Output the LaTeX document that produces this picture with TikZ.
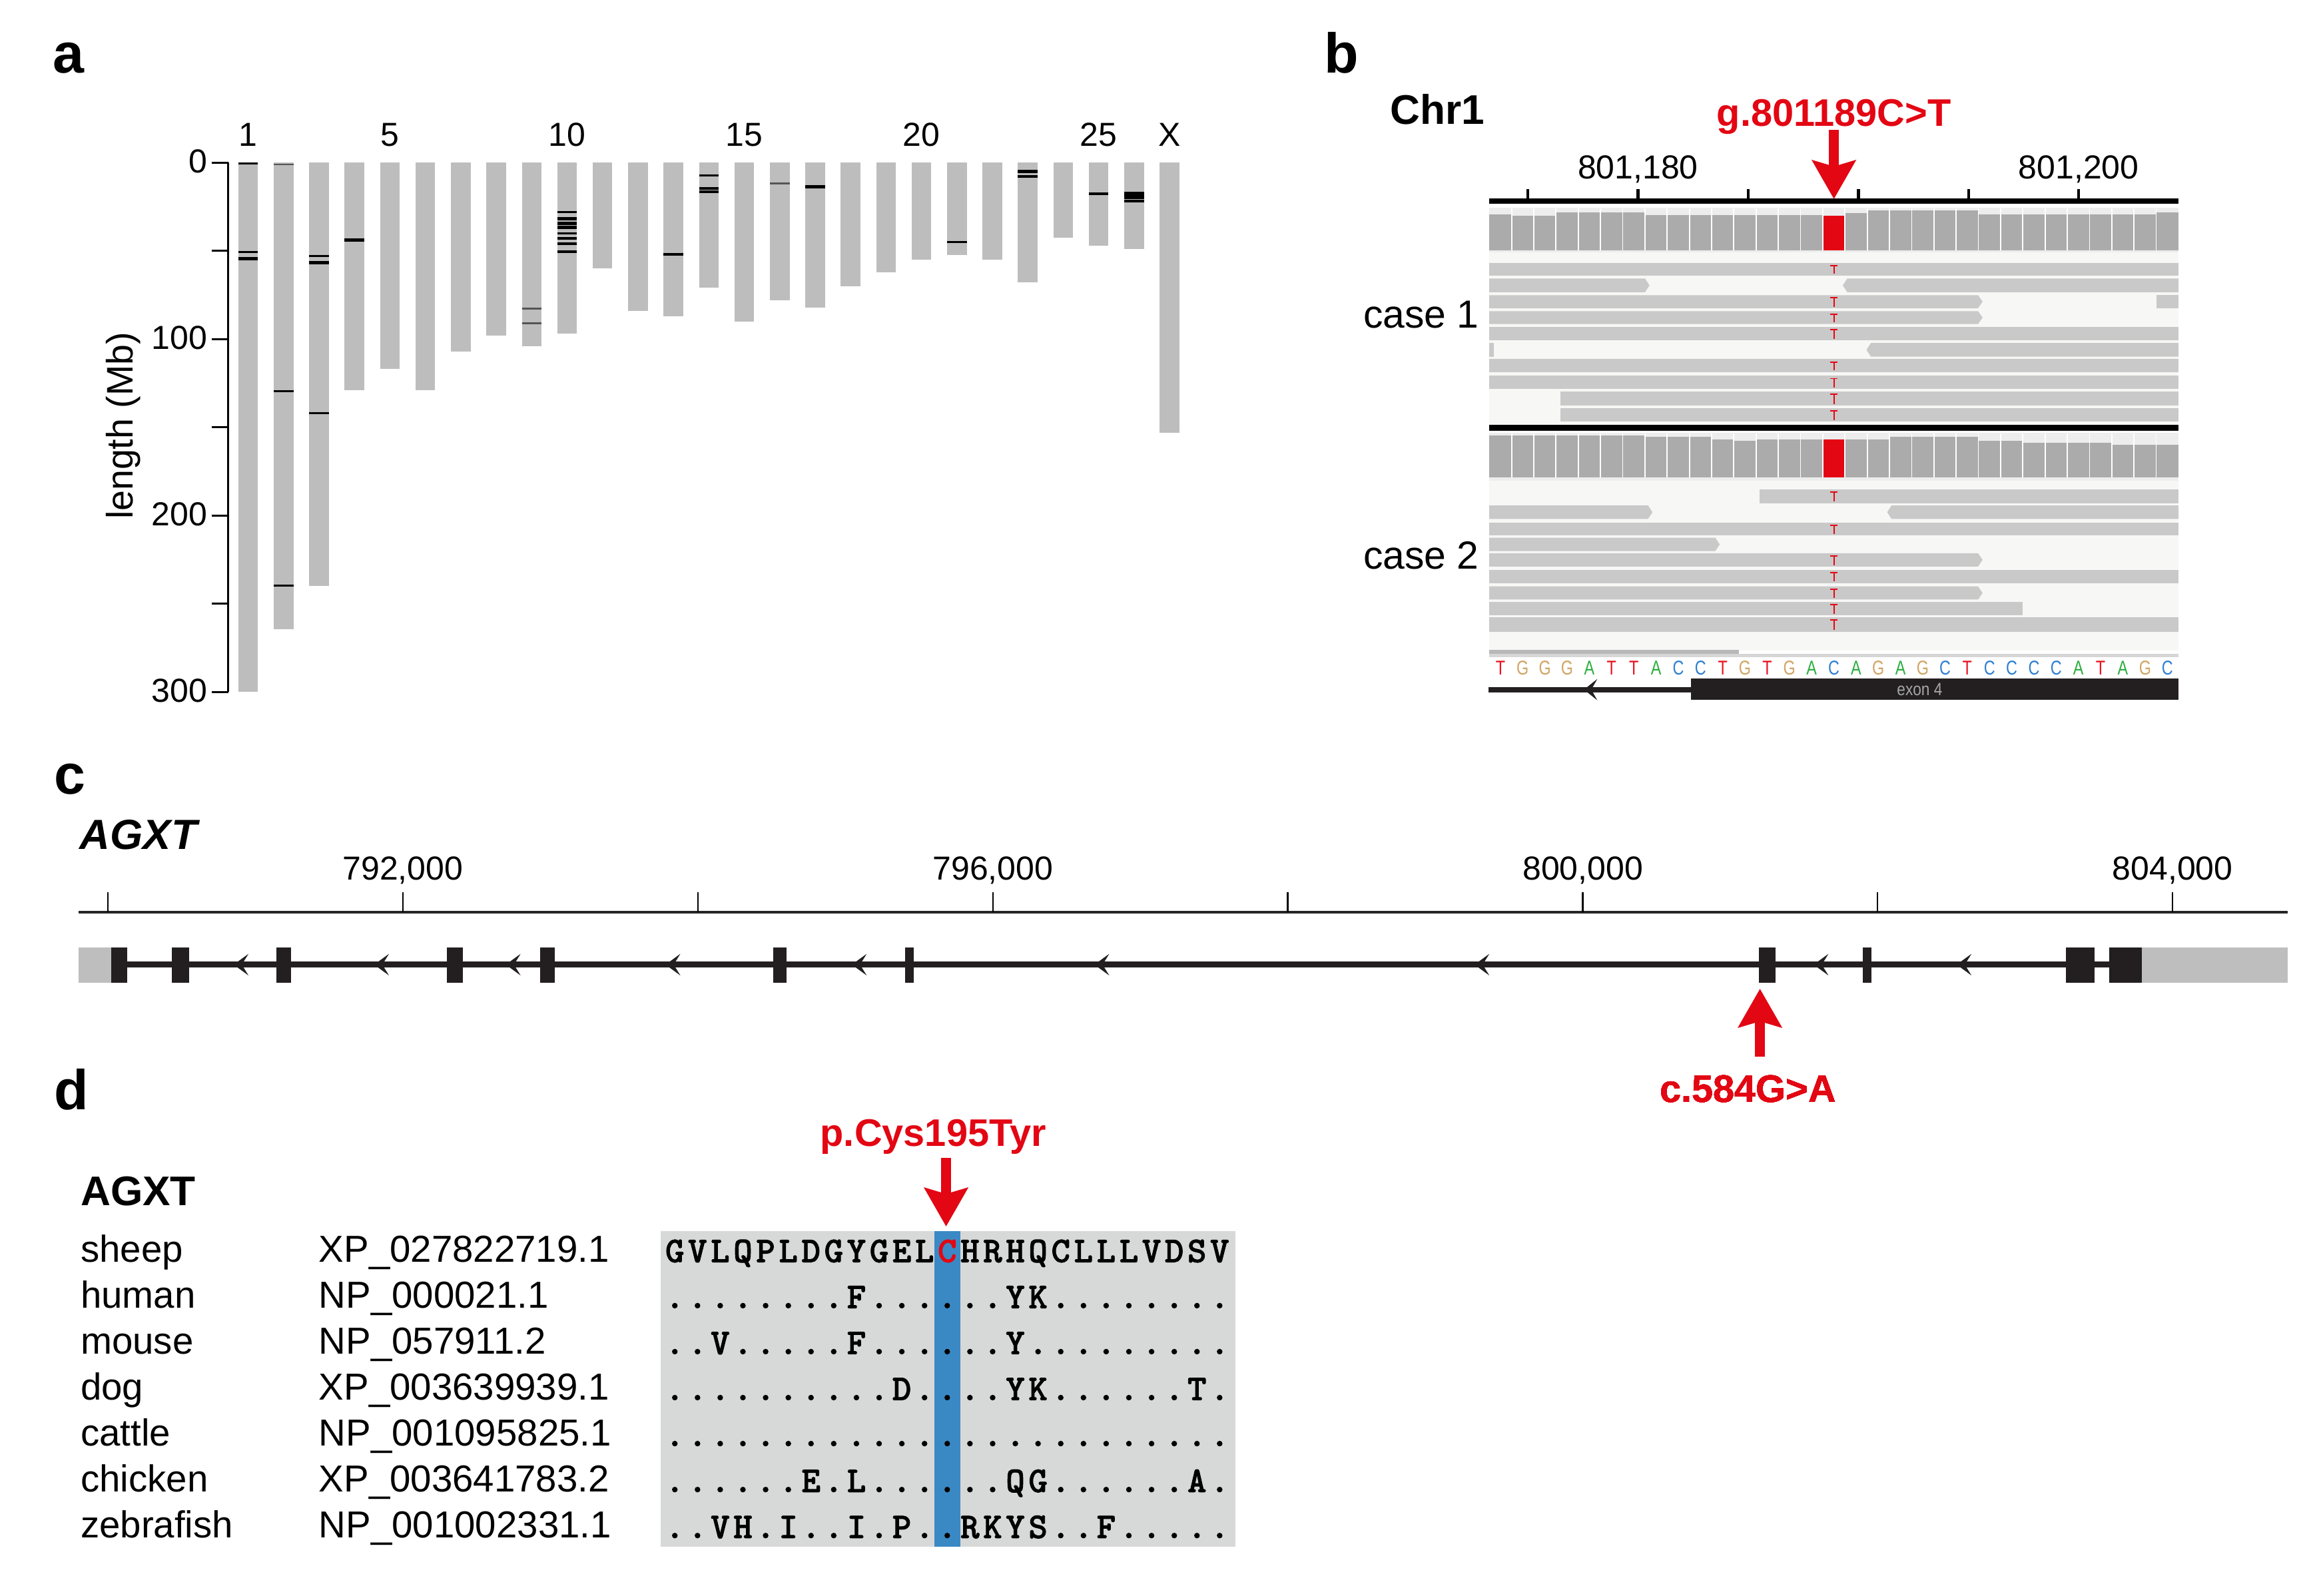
\documentclass[tikz,border=0pt]{standalone}
\usepackage{fontspec}
\setmainfont{Liberation Sans}
\newfontfamily\alnfont{lmmonolt10-bold}[Extension=.otf, FakeBold=1.6]
\usetikzlibrary{arrows.meta}

\definecolor{chrgrey}{HTML}{BDBDBD}
\definecolor{covgrey}{HTML}{ABABAB}
\definecolor{readgrey}{HTML}{C9C9C9}
\definecolor{readbg}{HTML}{F7F7F5}
\definecolor{covbg}{HTML}{EDEDED}
\definecolor{mutred}{HTML}{E30613}
\definecolor{exonblack}{HTML}{231F20}
\definecolor{utrgrey}{HTML}{BEBEBE}
\definecolor{alnbg}{HTML}{D7D8D8}
\definecolor{alnblue}{HTML}{3A89C4}
\definecolor{colT}{HTML}{E8101E}
\definecolor{colG}{HTML}{D2A463}
\definecolor{colA}{HTML}{2BAE3F}
\definecolor{colC}{HTML}{2D7FD0}
\definecolor{markgrey}{HTML}{555555}

\newcount\alnk
\newcommand\redC{\textcolor{mutred}{C}}
\newcommand\alnrow[2]{\global\alnk=0 \def\alny{#1}\alnscan#2\relax}
\def\alnscan#1{\ifx#1\relax\else\node[alnchar] at ({448.6+15.35*(\the\alnk+0.5)},\alny) {#1};\global\advance\alnk by 1\relax\expandafter\alnscan\fi}

\newcommand\rdbox[4]{\fill[readgrey] (#1,#3) rectangle (#2,#4);}
\newcommand\rdright[4]{\fill[readgrey] (#1,#3) -- ({#2-3},#3) -- (#2,{(#3+#4)/2}) -- ({#2-3},#4) -- (#1,#4) -- cycle;}
\newcommand\rdleft[4]{\fill[readgrey] (#2,#3) -- ({#1+3},#3) -- (#1,{(#3+#4)/2}) -- ({#1+3},#4) -- (#2,#4) -- cycle;}
\newcommand\mutT[2]{\draw[mutred, line width=0.9pt] (1240,{#1+1.6}) -- (1240,{#2-1});
  \draw[mutred, line width=0.9pt] (1237.6,{#1+1.9}) -- (1242.4,{#1+1.9});}
\newcommand\genedart[4]{\fill[exonblack] (#1,#2) -- ({#1+#3},{#2-#4}) -- ({#1+#3*0.55},#2) -- ({#1+#3},{#2+#4}) -- cycle;}

\tikzset{
 every node/.style={inner sep=0pt, outer sep=0pt},
 ticklab/.style={font=\fontsize{22.5}{27}\selectfont},
 panellab/.style={font=\fontsize{38}{44}\selectfont\bfseries},
 boldlab/.style={font=\fontsize{28}{33}\selectfont\bfseries},
 redlab/.style={font=\fontsize{26}{31}\selectfont\bfseries, text=mutred},
 caselab/.style={font=\fontsize{26.5}{31}\selectfont},
 namelab/.style={font=\fontsize{25.4}{30}\selectfont},
 alnchar/.style={font=\alnfont\fontsize{24.5}{28}\selectfont, anchor=base},
 seqlet/.style={font=\fontsize{13.5}{16}\selectfont, anchor=base},
 redarrow/.style={draw=mutred, line width=6.5pt, -{Stealth[length=26pt, width=29pt, inset=4pt]}},
}

\begin{document}
\begin{tikzpicture}[x=1pt,y=-1pt]
\path[use as bounding box, fill=white] (0,0) rectangle (1568,1079);

%% ================= panel a =================
\node[panellab, anchor=base west] (pa) at (36,49.5) {a};
\draw[line width=1.3pt] (154.3,110) -- (154.3,468);
\foreach \v in {0,50,...,300}
  \draw[line width=1.3pt] (143,{110+\v*1.1933}) -- (154.3,{110+\v*1.1933});
\foreach \v in {0,100,200,300}
  \node[ticklab, anchor=base east] (ya\v) at (140,{117+\v*1.1933}) {\v};
\node[font=\fontsize{25}{30}\selectfont, rotate=90] (ylab) at (83.5,288) {length (Mb)};
\foreach \L [count=\i] in {300,264.5,240,129,117,129,107,98,104,97,60,84,87,71,90,78,82,70,62,55,52.5,55,68,42.5,47,49,153}
  \fill[chrgrey] ({167.8+(\i-1)*23.96-6.65},110) rectangle ({167.8+(\i-1)*23.96+6.65},{110+\L*1.1933});
\foreach \i/\m/\w in {1/0.5/1.2, 1/50.7/1.5, 1/54.4/2.6, 2/129.5/1.3, 2/239.6/1.3,
   3/52.8/1.5, 3/56.8/2.2, 3/142/1.3, 4/44/2.3, 10/28/1.6, 10/31.8/2.4, 10/34.3/2.4,
   10/36.8/2.4, 10/40/1.6, 10/43/1.6, 10/46/1.6, 10/50.4/1.6, 13/52/1.5,
   14/7.4/1.3, 14/14.7/1.6, 14/16.5/1.6, 17/13.7/2.6, 21/45/1.5, 23/5/2.2, 23/7.8/2.2,
   25/17.6/1.5, 26/17.4/2.6, 26/19.6/2.6, 26/21.7/2}
  \draw[line width=\w pt] ({167.8+(\i-1)*23.96-6.65},{110+\m*1.1933}) -- ++(13.3,0);
\foreach \i/\m in {2/1, 9/82.7, 9/91, 16/11.8}
  \draw[line width=1pt, markgrey] ({167.8+(\i-1)*23.96-6.65},{110+\m*1.1933}) -- ++(13.3,0);
\foreach \i/\t in {1/1,5/5,10/10,15/15,20/20,25/25,27/X}
  \node[ticklab, anchor=base] (chr\i) at ({167.8+(\i-1)*23.96},98.7) {\t};

%% ================= panel b =================
\node[panellab, anchor=base west] (pb) at (895.5,49.5) {b};
\node[boldlab, anchor=base west] (chr) at (940,84) {Chr1};
\node[redlab, anchor=base] (gmut) at (1240,85.5) {g.801189C>T};
\coordinate (gtail) at (1240,88);
\coordinate (gtip) at (1240,134.6);
\draw[line width=4pt] (1007,136) -- (1473,136);
\foreach \x in {1033,1107.5,1182,1256.5,1331,1405.5}
  \draw[line width=2pt] (\x,127.8) -- (\x,136);
\node[ticklab, anchor=base] (t180) at (1107.5,120.8) {801,180};
\node[ticklab, anchor=base] (t200) at (1405.5,120.8) {801,200};
\draw[redarrow] (gtail) -- (gtip);

% case 1 coverage
\fill[covbg] (1007,140.5) rectangle (1473,170.5);
\fill[readbg] (1007,170.5) rectangle (1473,287.5);
\foreach \t [count=\k from 0] in {145.0,145.9,145.9,143.6,143.6,143.6,143.6,145.3,145.3,145.3,145.3,145.3,145.3,145.3,145.3,145.9,144.1,142.4,142.4,142.4,142.4,142.4,145.0,145.0,145.0,145.0,145.0,145.0,145.0,145.0,143.6}
  \fill[covgrey] ({1007+\k*15.03},\t) rectangle ({1007+(\k+1)*15.03},169.1);
\fill[mutred] ({1007+15*15.03},145.9) rectangle ({1007+16*15.03},169.1);
\foreach \k in {1,...,30}
  \draw[white, line width=0.8pt] ({1007+\k*15.03},141) -- ({1007+\k*15.03},169.1);
% case 1 reads
\rdbox{1007}{1473}{177.7}{186.3} \mutT{177.7}{186.3}
\rdright{1007}{1115.3}{188.4}{197.6} \rdleft{1246}{1473}{188.4}{197.6}
\rdright{1007}{1340.5}{199.6}{208.4} \rdbox{1458.3}{1473}{199.6}{208.4} \mutT{199.6}{208.4}
\rdright{1007}{1340.5}{210.5}{219.1} \mutT{210.5}{219.1}
\rdbox{1007}{1473}{221.2}{230.3} \mutT{221.2}{230.3}
\rdbox{1007}{1010}{232.0}{241.2} \rdleft{1262}{1473}{232.0}{241.2}
\rdbox{1007}{1473}{242.9}{251.5} \mutT{242.9}{251.5}
\rdbox{1007}{1473}{254.1}{263.0} \mutT{254.1}{263.0}
\rdbox{1055}{1473}{264.8}{274.2} \mutT{264.8}{274.2}
\rdbox{1055}{1473}{276.0}{285.1} \mutT{276.0}{285.1}
\draw[line width=4pt] (1007,289.5) -- (1473,289.5);

% case 2 coverage
\fill[covbg] (1007,292.5) rectangle (1473,325);
\fill[readbg] (1007,325) rectangle (1473,440);
\foreach \t [count=\k from 0] in {294.3,294.3,294.3,294.3,294.3,294.3,294.3,295.5,295.5,295.5,297.0,298.2,297.0,297.0,297.0,297.0,297.0,297.0,295.5,295.5,295.5,295.5,298.2,298.2,299.6,299.6,299.6,299.6,301.0,301.0,301.0}
  \fill[covgrey] ({1007+\k*15.03},\t) rectangle ({1007+(\k+1)*15.03},322.7);
\fill[mutred] ({1007+15*15.03},297.0) rectangle ({1007+16*15.03},322.7);
\foreach \k in {1,...,30}
  \draw[white, line width=0.8pt] ({1007+\k*15.03},293) -- ({1007+\k*15.03},322.7);
% case 2 reads
\rdbox{1189.7}{1473}{330.9}{340.3} \mutT{330.9}{340.3}
\rdright{1007}{1117.3}{341.8}{351} \rdleft{1276}{1473}{341.8}{351}
\rdbox{1007}{1473}{353.3}{362.2} \mutT{353.3}{362.2}
\rdright{1007}{1162.8}{363.7}{372.7}
\rdright{1007}{1340.5}{374.2}{383.1} \mutT{374.2}{383.1}
\rdbox{1007}{1473}{385.4}{394.3} \mutT{385.4}{394.3}
\rdright{1007}{1340.5}{396.6}{405.5} \mutT{396.6}{405.5}
\rdbox{1007}{1367.4}{407}{416} \mutT{407}{416}
\rdbox{1007}{1473}{417.5}{427.2} \mutT{417.5}{427.2}
\fill[black!28] (1007,439.5) rectangle (1175.6,442);
\fill[black!16] (1007,442) rectangle (1473,444.3);

\node[caselab, anchor=base east] (case1) at (1000,221.6) {case 1};
\node[caselab, anchor=base east] (case2) at (1000,384.6) {case 2};

% reference sequence
\foreach \l [count=\k from 0] in {T,G,G,G,A,T,T,A,C,C,T,G,T,G,A,C,A,G,A,G,C,T,C,C,C,C,A,T,A,G,C}
  \node[seqlet, text=col\l] (seq\k) at ({1007+(\k+0.5)*15.03},456.3) {\scalebox{0.78}[1]{\l}};
% gene track
\fill[exonblack] (1143.5,458.8) rectangle (1473,473.4);
\draw[line width=3.7pt, exonblack] (1006.5,466.4) -- (1143.5,466.4);
\genedart{1071}{466.4}{9}{7.2}
\node[font=\fontsize{12}{14}\selectfont, text=black!35] (ex4) at (1298,466.2) {\scalebox{0.85}[1]{exon 4}};

%% ================= panel c =================
\node[panellab, anchor=base west] (pc) at (36.8,537) {c};
\node[font=\fontsize{28.5}{33}\selectfont\bfseries\itshape, anchor=base west] (agxtc) at (54,574.5) {AGXT};
\draw[line width=2pt, black!85] (53,617) -- (1547,617);
\foreach \k in {0,...,7}
  \draw[line width=1pt] ({73+\k*199.43},603.5) -- ({73+\k*199.43},617);
\node[ticklab, anchor=base] (c792) at (272.4,595) {792,000};
\node[ticklab, anchor=base] (c796) at (671.3,595) {796,000};
\node[ticklab, anchor=base] (c800) at (1070.2,595) {800,000};
\node[ticklab, anchor=base] (c804) at (1469,595) {804,000};
\fill[utrgrey] (53,640.7) rectangle (75,664.5);
\fill[utrgrey] (1448,640.7) rectangle (1547,664.5);
\draw[line width=4pt, exonblack] (75,652.4) -- (1448,652.4);
\foreach \a/\b in {75/86,116/128,187/197,302/313,365/375,523/532,612/618,1189.1/1200.5,1259.4/1265.4,1397/1416,1426/1448}
  \fill[exonblack] (\a,640.7) rectangle (\b,664.5);
\foreach \x in {158,253,342,450,576,740,997,1226.3,1323}
  \genedart{\x}{652.4}{10}{7.3}
\node[redlab, anchor=base] (cmut) at (1182,745.3) {c.584G>A};
\coordinate (ctail) at (1190,714.6);
\coordinate (ctip) at (1190,668.7);
\draw[redarrow] (ctail) -- (ctip);

%% ================= panel d =================
\node[panellab, anchor=base west] (pd) at (36.8,750.5) {d};
\node[redlab, anchor=base] (pmut) at (631,775.2) {p.Cys195Tyr};
\coordinate (ptail) at (639.7,783);
\coordinate (ptip) at (639.7,829.5);
\node[boldlab, anchor=base west] (agxtd) at (54.6,815.4) {AGXT};
\fill[alnbg] (446.5,832.5) rectangle (835.1,1046.2);
\fill[alnblue] (632,832.5) rectangle (649.5,1046.2);
\draw[redarrow] (ptail) -- (ptip);
\foreach \s/\acc [count=\r from 0] in {sheep/XP\_027822719.1, human/NP\_000021.1, mouse/NP\_057911.2, dog/XP\_003639939.1, cattle/NP\_001095825.1, chicken/XP\_003641783.2, zebrafish/NP\_001002331.1}{
  \node[namelab, anchor=base west] (sp\r) at (54.6,{853.6+\r*31.1}) {\s};
  \node[namelab, anchor=base west] (acc\r) at (215.6,{853.6+\r*31.1}) {\acc};
}
\alnrow{853.6}{GVLQPLDGYGEL\redC HRHQCLLLVDSV}
\alnrow{884.7}{........F......YK........}
\alnrow{915.8}{..V.....F......Y.........}
\alnrow{946.9}{..........D....YK......T.}
\alnrow{978.0}{.........................}
\alnrow{1009.1}{......E.L......QG......A.}
\alnrow{1040.2}{..VH.I..I.P..RKYS..F.....}

\end{tikzpicture}
\end{document}
